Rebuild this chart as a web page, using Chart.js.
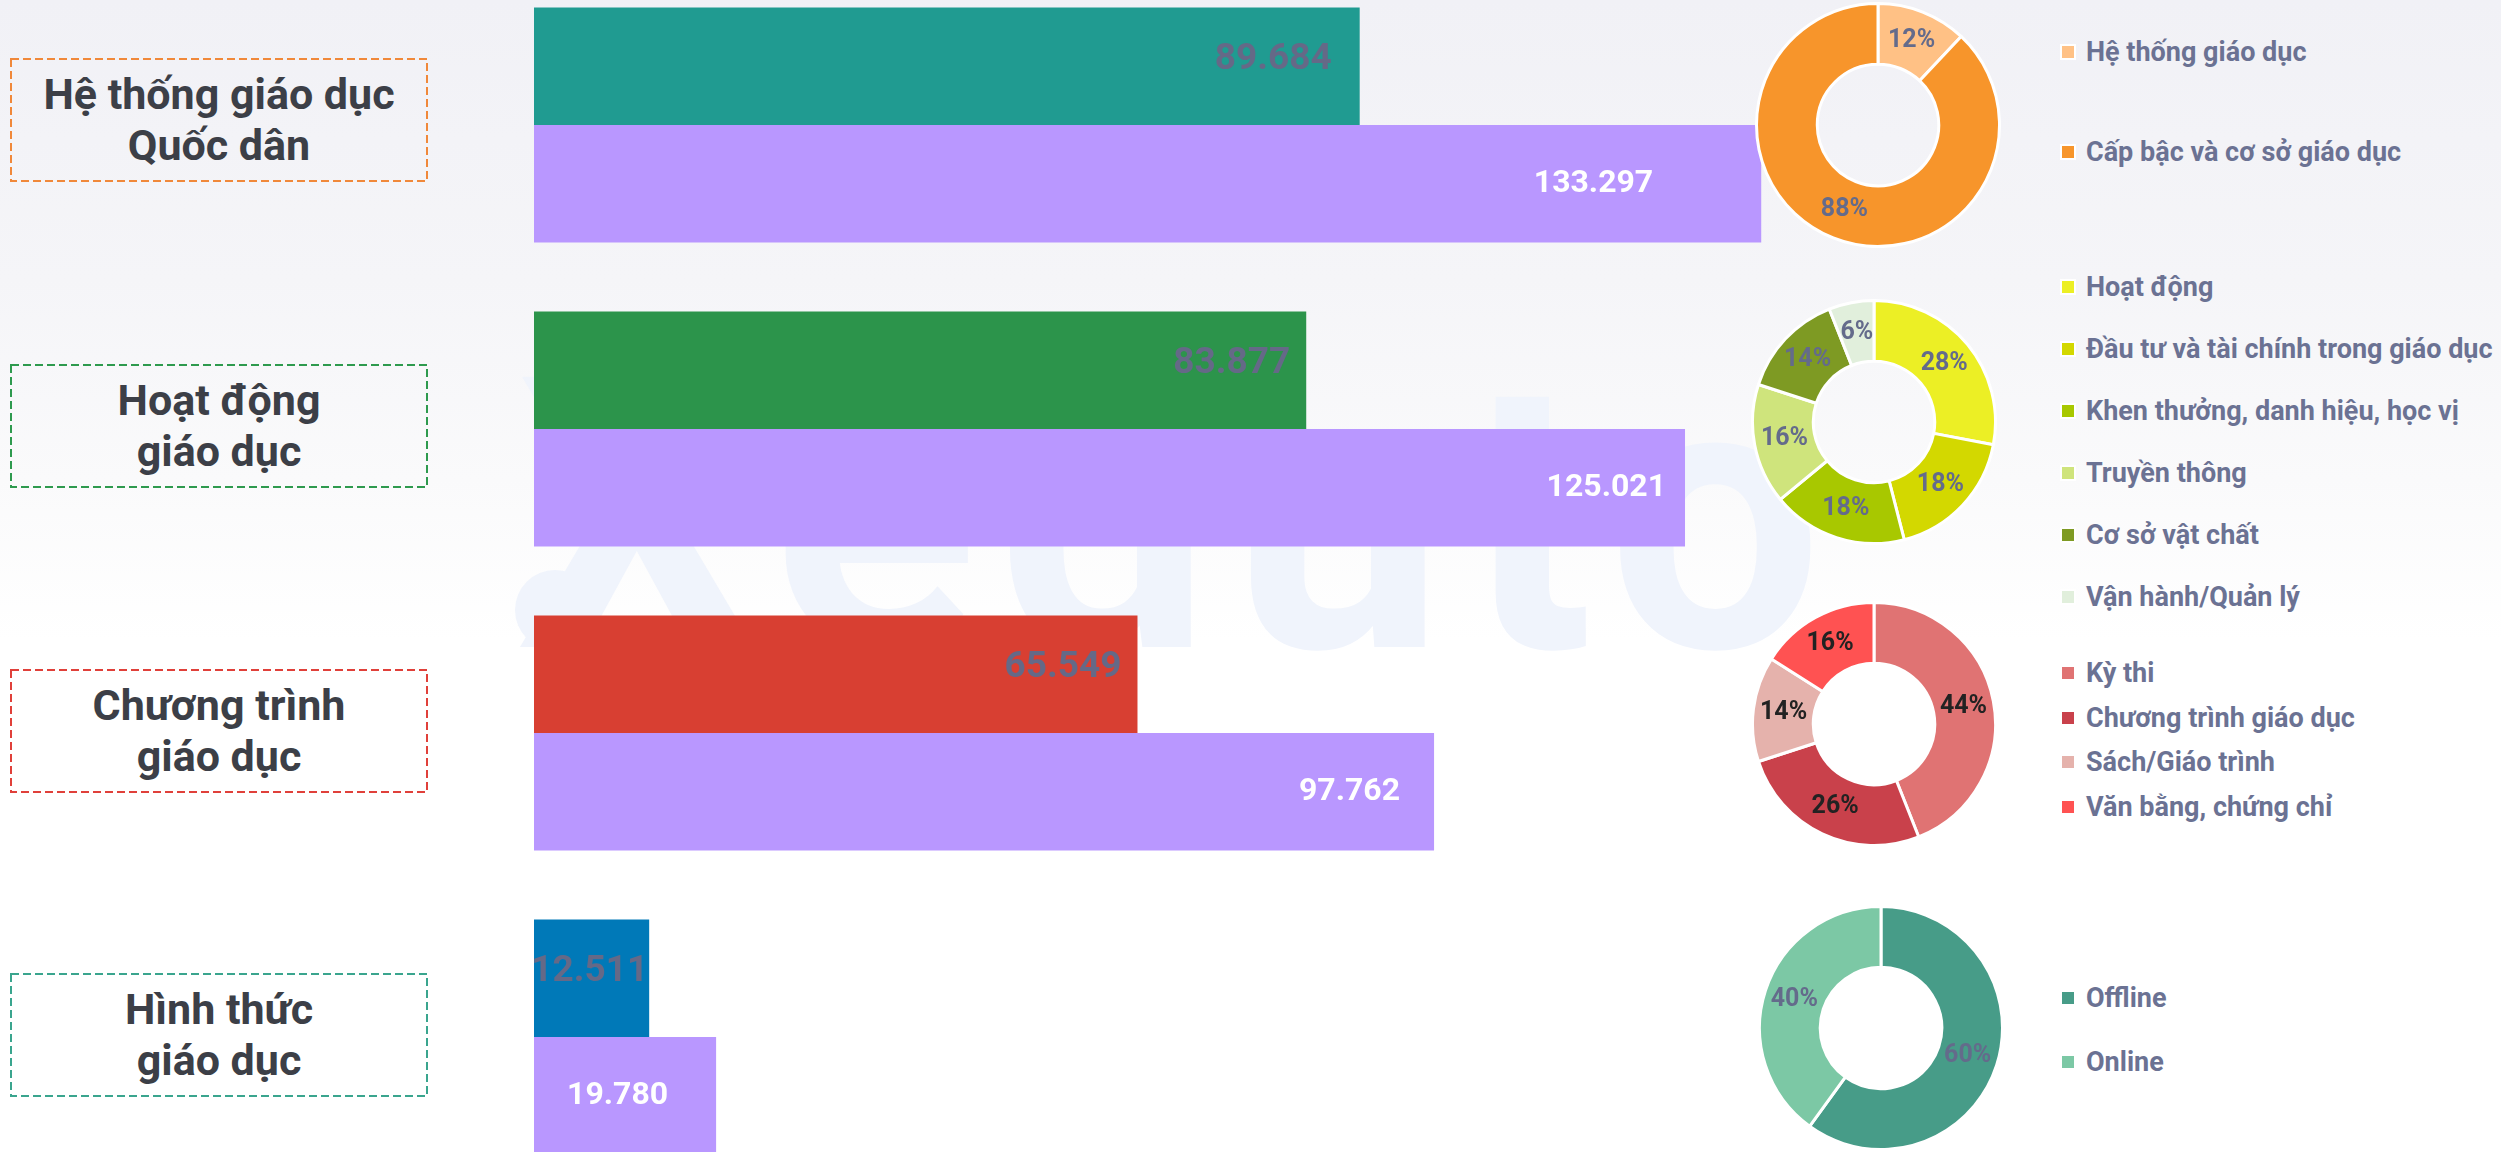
<!DOCTYPE html>
<html lang="vi">
<head>
<meta charset="utf-8">
<title>Giáo dục</title>
<script src="https://cdn.jsdelivr.net/npm/chart.js@4.4.0/dist/chart.umd.min.js"></script>
<style>
  html, body { margin: 0; padding: 0; }
  body {
    width: 2501px; height: 1152px; overflow: hidden; position: relative;
    font-family: Roboto, "Noto Sans", sans-serif;
    background: linear-gradient(180deg, #f1f1f6 0px, #f5f5f8 280px, #fafafb 480px, #ffffff 640px);
  }
  .mark {
    position: absolute; left: 516px; top: 327px;
    font: 700 380px/1 Roboto; letter-spacing: 20px; color: #f0f4fc;
    white-space: nowrap;
  }
  .dot {
    position: absolute; left: 515px; top: 570px; width: 80px; height: 80px;
    border-radius: 50%; background: #f0f4fc;
  }
  .topic {
    position: absolute; left: 10px; width: 418px; height: 124px;
    display: flex; align-items: center; justify-content: center; text-align: center;
    font: 700 43px/51px Roboto; color: #3c3f47;
  }
  .topic svg { position: absolute; left: 0; top: 0; }
  #bars { position: absolute; left: 534px; top: -27px; }
  .pie { position: absolute; }
  .legend { position: absolute; left: 2060px; display: flex; flex-direction: column; }
  .legend div {
    display: flex; align-items: center; height: 30px;
    font: 700 27px Roboto; color: #6b7293; white-space: nowrap;
  }
  .legend span { width: 12px; height: 12px; border: 2px solid #fff; margin-right: 10px; }
</style>
</head>
<body>
<div class="dot"></div>
<div class="mark">Xeduto</div>
<canvas id="bars" width="1381" height="1216"></canvas>
<div id="rows"></div>

<script>
// nhóm chủ đề và số liệu
const topics = [
    ['Hệ thống giáo dục', 'Quốc dân'],
    ['Hoạt động', 'giáo dục'],
    ['Chương trình', 'giáo dục'],
    ['Hình thức', 'giáo dục']
];
const seriesA = [89684, 83877, 65549, 12511];
const seriesB = [133297, 125021, 97762, 19780];

const systemLabels = ['Hệ thống giáo dục', 'Cấp bậc và cơ sở giáo dục'];
const systemShares = [12, 88];

const activityLabels = ['Hoạt động', 'Đầu tư và tài chính trong giáo dục', 'Khen thưởng, danh hiệu, học vị',
    'Truyền thông', 'Cơ sở vật chất', 'Vận hành/Quản lý'];
const activityShares = [28, 18, 18, 16, 14, 6];

const programLabels = ['Kỳ thi', 'Chương trình giáo dục', 'Sách/Giáo trình', 'Văn bằng, chứng chỉ'];
const programShares = [44, 26, 14, 16];

const formLabels = ['Offline', 'Online'];
const formShares = [60, 40];

// màu
const topicColors = ['#209b91', '#2c944b', '#d83f32', '#0079b8'];
const frameColors = ['#f0883a', '#2e9a4e', '#e0403a', '#3aa58e'];
const purple = '#b997ff';

const pies = [
    { labels: systemLabels, data: systemShares, colors: ['#ffc185', '#f7952b'], text: '#646b8b' },
    { labels: activityLabels, data: activityShares,
      colors: ['#ecef25', '#d3d800', '#a8c800', '#cfe47c', '#7e9a23', '#e1efdc'], text: '#646b8b' },
    { labels: programLabels, data: programShares, colors: ['#e07373', '#c9414b', '#e5b2ac', '#ff5252'], text: '#222222' },
    { labels: formLabels, data: formShares, colors: ['#479c88', '#7cc8a5'], text: '#646b8b' }
];

// vị trí từng hàng: khung tiêu đề, tâm biểu đồ tròn, chú thích
const layout = [
    { boxTop: 58,  cx: 1878, cy: 125,  legendFirst: 52,  legendStep: 100 },
    { boxTop: 364, cx: 1874, cy: 422,  legendFirst: 287, legendStep: 62 },
    { boxTop: 669, cx: 1874, cy: 724,  legendFirst: 673, legendStep: 44.7 },
    { boxTop: 973, cx: 1881, cy: 1028, legendFirst: 998, legendStep: 64 }
];

function fmt(v) {
    return String(v).replace(/\B(?=(\d{3})+(?!\d))/g, '.');
}

// nhãn số trên thanh
const barValues = {
    id: 'barValues',
    afterDatasetsDraw(chart, args, opts) {
        const ctx = chart.ctx;
        ctx.save();
        ctx.textAlign = 'right';
        ctx.textBaseline = 'middle';
        chart.data.datasets.forEach((ds, di) => {
            const st = opts.styles[di];
            ctx.font = st.font;
            ctx.fillStyle = st.color;
            chart.getDatasetMeta(di).data.forEach((bar, i) => {
                ctx.fillText(fmt(ds.data[i]), bar.x - st.inset[i], bar.y + st.dy);
            });
        });
        ctx.restore();
    }
};

// phần trăm trên vành
const pctLabels = {
    id: 'pctLabels',
    afterDatasetsDraw(chart, args, opts) {
        const ctx = chart.ctx;
        const ds = chart.data.datasets[0];
        const total = ds.data.reduce((a, b) => a + b, 0);
        ctx.save();
        ctx.font = '700 25px Roboto';
        ctx.fillStyle = opts.color;
        ctx.textAlign = 'center';
        ctx.textBaseline = 'middle';
        chart.getDatasetMeta(0).data.forEach((arc, i) => {
            const p = arc.getProps(['x', 'y', 'startAngle', 'endAngle', 'innerRadius', 'outerRadius']);
            const a = (p.startAngle + p.endAngle) / 2;
            const r = (p.innerRadius + p.outerRadius) / 2;
            ctx.fillText(Math.round(ds.data[i] / total * 100) + '%', p.x + Math.cos(a) * r, p.y + Math.sin(a) * r);
        });
        ctx.restore();
    }
};

new Chart(document.getElementById('bars'), {
    type: 'bar',
    data: {
        labels: topics.map(t => t.join(' ')),
        datasets: [
            { label: 'Nhóm 1', data: seriesA, backgroundColor: topicColors },
            { label: 'Nhóm 2', data: seriesB, backgroundColor: purple }
        ]
    },
    options: {
        indexAxis: 'y',
        responsive: false,
        animation: false,
        devicePixelRatio: 1,
        layout: { padding: 0 },
        datasets: { bar: { categoryPercentage: 0.773, barPercentage: 1, borderWidth: 0 } },
        scales: {
            x: { display: false, min: 0, max: 150000 },
            y: { display: false }
        },
        plugins: {
            legend: { display: false },
            tooltip: { enabled: false },
            barValues: {
                styles: [
                    { font: '700 37px Roboto', color: '#656987', dy: -7, inset: [28, 16, 16, 1] },
                    { font: '700 32px Roboto', color: '#ffffff', dy: 0, inset: [108, 19, 34, 48] }
                ]
            }
        }
    },
    plugins: [barValues]
});

const rows = document.getElementById('rows');

topics.forEach((t, i) => {
    const L = layout[i];

    // khung tiêu đề nét đứt
    const box = document.createElement('div');
    box.className = 'topic';
    box.style.top = L.boxTop + 'px';
    box.innerHTML = '<svg width="418" height="124"><rect x="1" y="1" width="416" height="122" fill="none" stroke="' +
        frameColors[i] + '" stroke-width="2" stroke-dasharray="8 4"/></svg><span style="position:relative">' +
        t.join('<br>') + '</span>';
    rows.appendChild(box);

    // biểu đồ tròn
    const pie = pies[i];
    const cv = document.createElement('canvas');
    cv.className = 'pie';
    cv.width = 246;
    cv.height = 246;
    cv.style.left = (L.cx - 123) + 'px';
    cv.style.top = (L.cy - 123) + 'px';
    rows.appendChild(cv);
    new Chart(cv, {
        type: 'doughnut',
        data: {
            labels: pie.labels,
            datasets: [{ data: pie.data, backgroundColor: pie.colors, borderColor: '#ffffff', borderWidth: 3 }]
        },
        options: {
            responsive: false,
            animation: false,
            devicePixelRatio: 1,
            cutout: '50%',
            layout: { padding: 0 },
            plugins: {
                legend: { display: false },
                tooltip: { enabled: false },
                pctLabels: { color: pie.text }
            }
        },
        plugins: [pctLabels]
    });

    // chú thích
    const lg = document.createElement('div');
    lg.className = 'legend';
    lg.style.top = (L.legendFirst - 15) + 'px';
    lg.style.gap = (L.legendStep - 30) + 'px';
    pie.labels.forEach((name, k) => {
        const item = document.createElement('div');
        item.innerHTML = '<span style="background:' + pie.colors[k] + '"></span>' + name;
        lg.appendChild(item);
    });
    rows.appendChild(lg);
});
</script>
</body>
</html>
